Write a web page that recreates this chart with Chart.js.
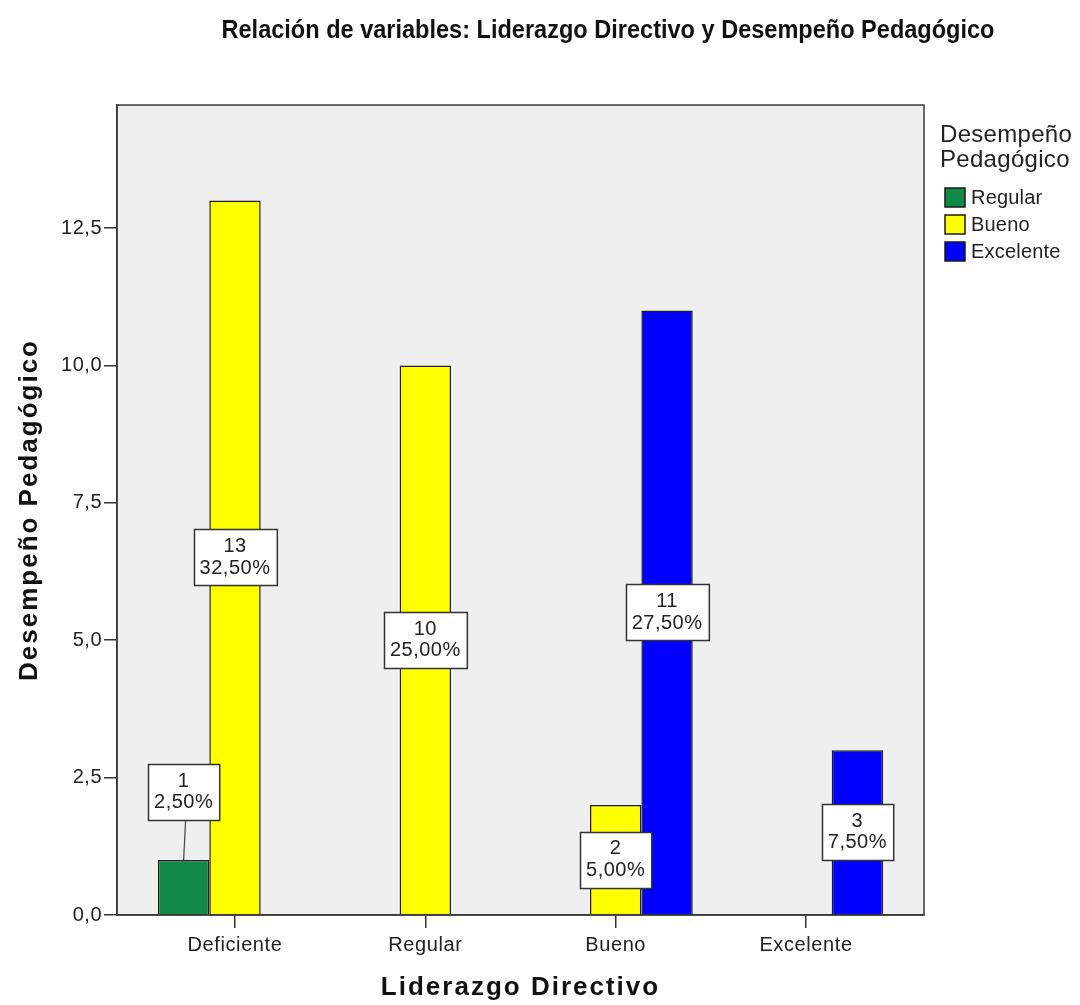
<!DOCTYPE html>
<html>
<head>
<meta charset="utf-8">
<script src="https://cdn.jsdelivr.net/npm/chart.js@4.4.1/dist/chart.umd.min.js"></script>
<style>
  html, body { margin: 0; padding: 0; background: #ffffff; }
  #wrap { width: 1080px; height: 1005px; position: relative; }
</style>
</head>
<body>
<div id="wrap"><canvas id="chart"></canvas></div>
<script>
// ---- Data -------------------------------------------------------------
const chartTitle = 'Relación de variables: Liderazgo Directivo y Desempeño Pedagógico';
const categories = ['Deficiente', 'Regular', 'Bueno', 'Excelente'];
const seriesNames = ['Regular', 'Bueno', 'Excelente'];
const regularCounts = [1, null, null, null];
const buenoCounts = [13, 10, 2, null];
const excelenteCounts = [null, null, 11, 3];
const yTickValues = [0, 2.5, 5, 7.5, 10, 12.5];
const xAxisTitle = 'Liderazgo Directivo';
const yAxisTitle = 'Desempeño Pedagógico';
const legendTitle = ['Desempeño', 'Pedagógico'];

// ---- Styling ----------------------------------------------------------
const FONT = '"Liberation Sans", Arial, Helvetica, sans-serif';
const seriesColors = ['#118a45', '#ffff00', '#0000ff'];
const INK = '#222222';

const allSeries = [regularCounts, buenoCounts, excelenteCounts];
const grandTotal = allSeries.flat().reduce((s, v) => s + (v || 0), 0);

const toPoints = arr => arr
  .map((v, i) => (v === null ? null : { x: i, y: v }))
  .filter(p => p !== null);

const fmtComma = (v, d) => v.toFixed(d).replace('.', ',');

// Wraps a scale draw method so its text uses extra letter spacing
function spaced(scale, method, spacing) {
  const key = '_spaced_' + method;
  if (scale[key]) return;
  const orig = scale[method];
  scale[method] = function (...args) {
    const ctx = this.ctx;
    ctx.save();
    ctx.letterSpacing = spacing;
    orig.apply(this, args);
    ctx.restore();
  };
  scale[key] = true;
}

// Grey plotting panel behind the bars
const panelPlugin = {
  id: 'panel',
  beforeDraw(chart) {
    const { ctx, chartArea: a } = chart;
    ctx.save();
    ctx.fillStyle = '#efefef';
    ctx.fillRect(a.left, a.top, a.right - a.left, a.bottom - a.top);
    ctx.restore();
  },
  afterDatasetsDraw(chart) {
    const { ctx, chartArea: a } = chart;
    ctx.save();
    ctx.strokeStyle = '#3a3a3a';
    ctx.lineWidth = 1.5;
    ctx.strokeRect(a.left, a.top, a.right - a.left, a.bottom - a.top);
    ctx.restore();
  }
};

// Count / percentage boxes on each bar
const valueBoxPlugin = {
  id: 'valueBoxes',
  afterDatasetsDraw(chart) {
    const { ctx } = chart;
    ctx.save();
    ctx.font = '20px ' + FONT;
    ctx.letterSpacing = '0.5px';
    ctx.textAlign = 'center';
    ctx.textBaseline = 'middle';
    const boxH = 56, pitch = 21.5, padX = 6, lift = 40;
    chart.data.datasets.forEach((ds, di) => {
      const meta = chart.getDatasetMeta(di);
      meta.data.forEach((bar, i) => {
        const v = ds.data[i].y;
        const lines = [String(v), fmtComma(v / grandTotal * 100, 2) + '%'];
        const w = Math.max(...lines.map(t => ctx.measureText(t).width)) + padX * 2;
        const barH = bar.base - bar.y;
        let cy;
        if (barH >= boxH) {
          cy = (bar.y + bar.base) / 2;
        } else {
          const boxBottom = bar.y - lift;
          cy = boxBottom - boxH / 2;
          ctx.strokeStyle = '#444';
          ctx.lineWidth = 1.2;
          ctx.beginPath();
          ctx.moveTo(bar.x + 2, boxBottom);
          ctx.lineTo(bar.x, bar.y);
          ctx.stroke();
        }
        const x0 = Math.round(bar.x - w / 2) + 0.5;
        const y0 = Math.round(cy - boxH / 2) + 0.5;
        ctx.fillStyle = '#ffffff';
        ctx.fillRect(x0, y0, w, boxH);
        ctx.strokeStyle = '#333';
        ctx.lineWidth = 1.5;
        ctx.strokeRect(x0, y0, w, boxH);
        ctx.fillStyle = INK;
        ctx.fillText(lines[0], bar.x, cy - pitch / 2);
        ctx.fillText(lines[1], bar.x, cy + pitch / 2);
      });
    });
    ctx.restore();
  }
};

// Chart heading and the legend at the right
const headingLegendPlugin = {
  id: 'headingLegend',
  afterDraw(chart) {
    const { ctx, chartArea: a } = chart;
    ctx.save();
    // heading, condensed bold
    ctx.font = 'bold 25px "Liberation Sans Narrow", ' + FONT;
    ctx.fillStyle = '#111';
    ctx.textAlign = 'center';
    ctx.textBaseline = 'alphabetic';
    const tw = ctx.measureText(chartTitle).width;
    const targetW = 773;
    ctx.translate(608, 38);
    ctx.scale(targetW / tw, 1);
    ctx.fillText(chartTitle, 0, 0);
    ctx.restore();

    // legend
    ctx.save();
    const lx = a.right + 16;
    ctx.fillStyle = INK;
    ctx.textAlign = 'left';
    ctx.textBaseline = 'alphabetic';
    ctx.font = '24px ' + FONT;
    ctx.letterSpacing = '0.3px';
    legendTitle.forEach((t, i) => ctx.fillText(t, lx, 142 + i * 25));
    ctx.font = '20px ' + FONT;
    ctx.letterSpacing = '0.2px';
    ctx.textBaseline = 'middle';
    chart.data.datasets.forEach((ds, i) => {
      const top = 188 + i * 27;
      ctx.fillStyle = ds.backgroundColor;
      ctx.fillRect(lx + 5, top, 20, 19);
      ctx.strokeStyle = '#1a1a1a';
      ctx.lineWidth = 1.5;
      ctx.strokeRect(lx + 5, top, 20, 19);
      ctx.fillStyle = INK;
      ctx.fillText(ds.label, lx + 31, top + 10);
    });
    ctx.restore();
  }
};

const datasets = allSeries.map((arr, i) => ({
  label: seriesNames[i],
  data: toPoints(arr),
  backgroundColor: seriesColors[i],
  borderColor: '#1e1e1e',
  borderWidth: 1.5,
  categoryPercentage: 0.81,
  barPercentage: 1.0
}));

new Chart(document.getElementById('chart'), {
  type: 'bar',
  data: { datasets },
  options: {
    responsive: true,
    maintainAspectRatio: false,
    animation: false,
    layout: { padding: { top: 105, right: 156, left: 0, bottom: 0 } },
    plugins: {
      legend: { display: false },
      title: { display: false },
      tooltip: { enabled: false }
    },
    scales: {
      x: {
        type: 'linear',
        min: -0.62,
        max: 3.62,
        offset: false,
        afterFit(scale) {
          scale.height = 90;
          spaced(scale, 'drawTitle', '2px');
          spaced(scale, 'drawLabels', '0.6px');
        },
        afterBuildTicks(scale) {
          scale.ticks = categories.map((c, i) => ({ value: i }));
        },
        ticks: {
          callback: v => categories[v],
          color: INK,
          font: { family: FONT, size: 20 },
          padding: 5,
          maxRotation: 0,
          autoSkip: false
        },
        grid: {
          display: true,
          offset: false,
          drawOnChartArea: false,
          drawTicks: true,
          tickLength: 13,
          color: '#333',
          lineWidth: 1.5
        },
        border: { display: true, color: '#2a2a2a', width: 1.5 },
        title: {
          display: true,
          text: xAxisTitle,
          color: '#111',
          font: { family: FONT, size: 26, weight: 'bold' },
          padding: { top: 0, bottom: 2 }
        }
      },
      y: {
        min: 0,
        max: 14.74,
        afterFit(scale) {
          scale.width = 117;
          spaced(scale, 'drawTitle', '2px');
          spaced(scale, 'drawLabels', '0.5px');
        },
        afterBuildTicks(scale) {
          scale.ticks = yTickValues.map(v => ({ value: v }));
        },
        ticks: {
          callback: v => fmtComma(v, 1),
          color: INK,
          font: { family: FONT, size: 20 },
          padding: 2
        },
        grid: {
          display: true,
          drawOnChartArea: false,
          drawTicks: true,
          tickLength: 13,
          color: '#333',
          lineWidth: 1.5
        },
        border: { display: true, color: '#2a2a2a', width: 1.5 },
        title: {
          display: true,
          text: yAxisTitle,
          color: '#111',
          font: { family: FONT, size: 26, weight: 'bold' },
          padding: { top: 14, bottom: 0 }
        }
      }
    }
  },
  plugins: [panelPlugin, valueBoxPlugin, headingLegendPlugin]
});
</script>
</body>
</html>
